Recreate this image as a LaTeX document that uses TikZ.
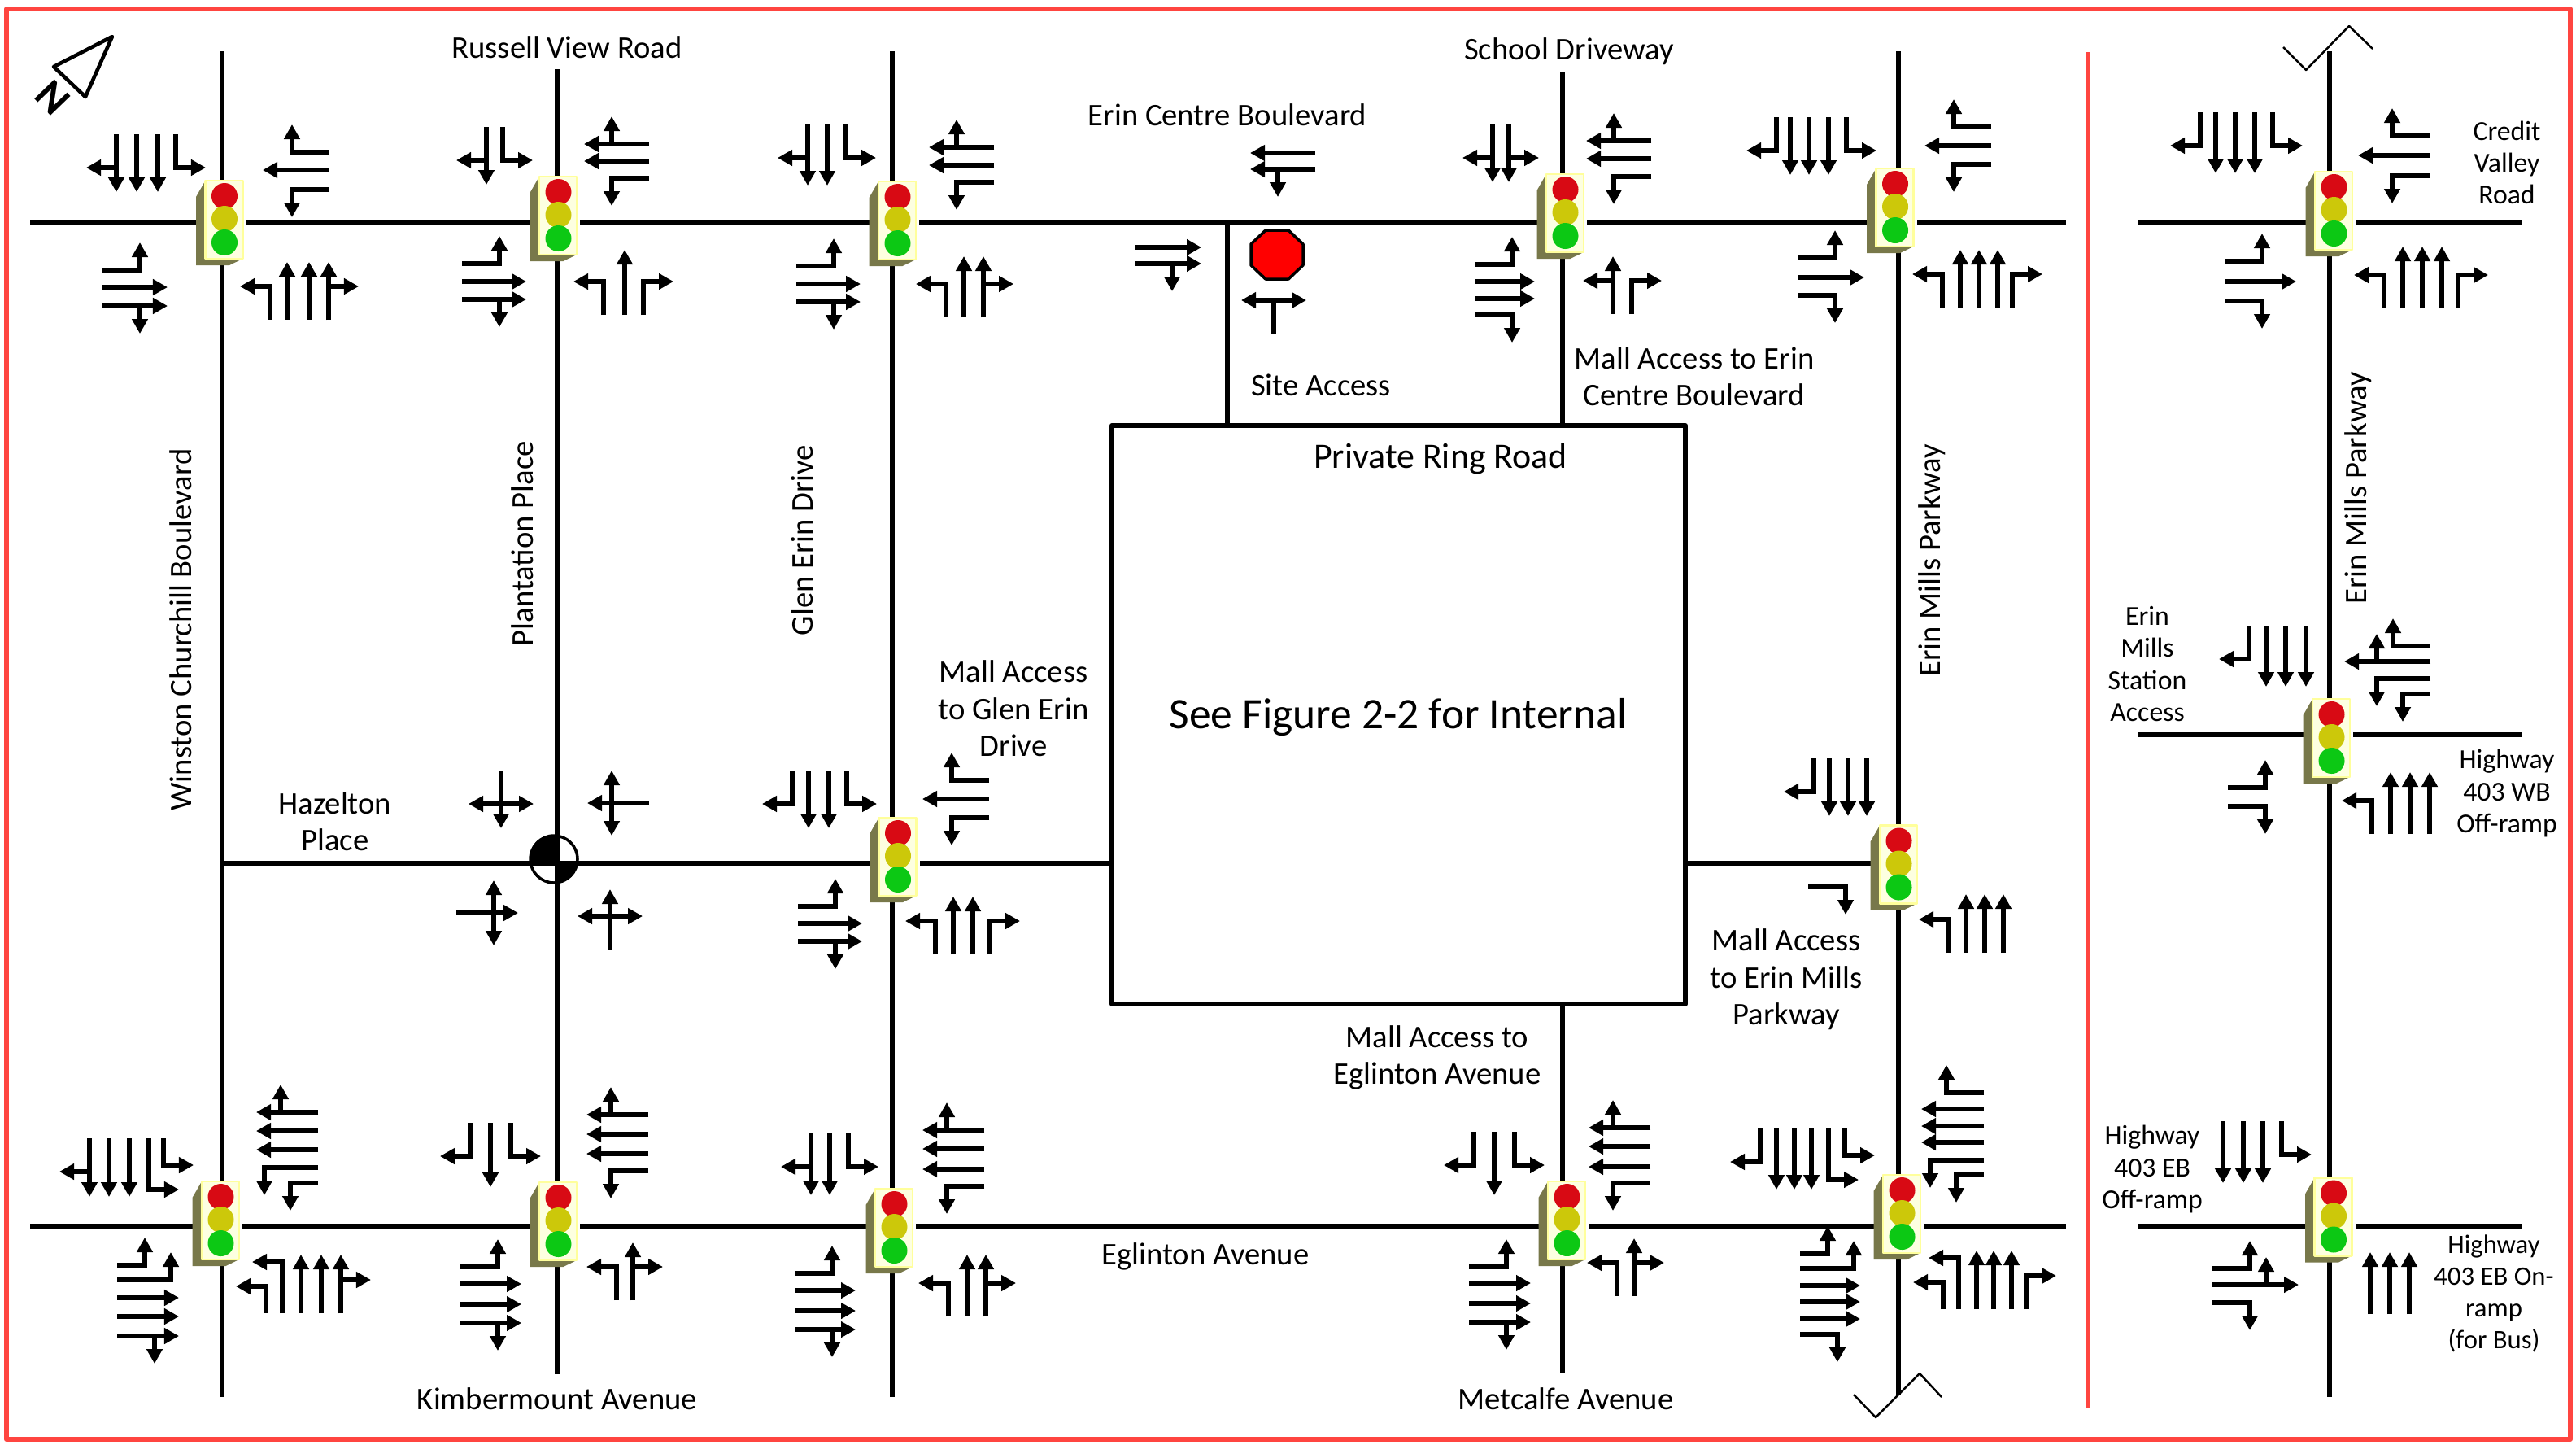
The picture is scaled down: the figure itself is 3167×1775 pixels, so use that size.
\documentclass[tikz,border=0pt]{standalone}
\usepackage{fontspec}
\setmainfont{Carlito}
\usetikzlibrary{arrows.meta}

% colours of the frame and the signal heads
\definecolor{framered}{HTML}{FF4540}
\definecolor{sideolive}{HTML}{78784A}
\definecolor{faceedge}{HTML}{FFFF9C}
\definecolor{faceinner}{HTML}{FDFFE0}
\definecolor{ballred}{HTML}{D80A14}
\definecolor{ballyellow}{HTML}{CCC80A}
\definecolor{ballgreen}{HTML}{0CC814}

\tikzset{
  road/.style={line width=1.75pt},
  lane/.style={line width=1.7pt, line join=miter, -{Triangle[length=0.18cm,width=0.19cm]}},
  lbl/.style={font=\fontsize{11}{12.9}\selectfont, align=center, inner sep=0pt},
  lblnarrow/.style={font=\fontsize{9.6}{11.1}\selectfont, align=center, inner sep=0pt},
}

% one lane of an approach, drawn going "up"; \off is the offset to the driver's right
\newcommand{\laneT}{\draw[lane] (\off,0) -- (\off,-\tlen);}
\newcommand{\laneL}{\draw[lane] (\off,0) -- (\off,-\stem) -- (\off-\hlen,-\stem);}
\newcommand{\laneR}{\draw[lane] (\off,0) -- (\off,-\stem) -- (\off+\hlen,-\stem);}
\newcommand{\laneTL}{\laneT\laneL}
\newcommand{\laneTR}{\laneT\laneR}
\newcommand{\laneLR}{\def\hlen{40}\laneL\laneR}
\newcommand{\laneTLR}{\def\hlen{40}\laneT\laneL\laneR}
\newcommand{\laneSL}{\let\stem\stemS\laneL}
\newcommand{\laneLL}{\let\stem\stemG\laneL}
\newcommand{\laneTLL}{\laneT\laneLL}
\newcommand{\laneTRR}{\laneT\let\stem\stemG\laneR}

% an approach: tail point of the first lane, rotation, list of kind/offset
\newcommand{\lanes}[4]{%
  \begin{scope}[shift={(#1,#2)},rotate=#3]
    \foreach \kd/\off in {#4}{\csname lane\kd\endcsname}
  \end{scope}}
\newcommand{\setns}[1]{\def\tlen{#1}\def\stem{41}\def\stemS{33}\def\stemG{63}\def\hlen{37}}
\newcommand{\setew}[1]{\def\tlen{#1}\def\stem{46}\def\stemS{34}\def\stemG{66}\def\hlen{34}}
\newcommand{\goN}[4][71]{\setns{#1}\lanes{#2}{#3}{0}{#4}}
\newcommand{\goS}[4][71]{\setns{#1}\lanes{#2}{#3}{180}{#4}}
\newcommand{\goW}[4][82]{\setew{#1}\lanes{#2}{#3}{90}{#4}}
\newcommand{\goE}[4][82]{\setew{#1}\lanes{#2}{#3}{-90}{#4}}

% signal head, at the centre of its face
\newcommand{\signal}[2]{%
  \begin{scope}[shift={(#1,#2)}]
    \fill[white] (23,-48) rectangle (27,56);
    \fill[sideolive] (-23,-48) -- (-34.5,-28) -- (-34.5,56) -- (6.5,56) -- (23,48) -- cycle;
    \draw[faceedge, fill=faceinner, line width=0.6pt] (-23,-48) rectangle (23,48);
    \fill[ballred] (0.5,-29) circle (16);
    \fill[ballyellow] (0.5,-1) circle (16);
    \fill[ballgreen] (0.5,28) circle (16);
  \end{scope}}

\begin{document}
\begin{tikzpicture}[x=0.01cm, y=-0.01cm, line join=round]
    \useasboundingbox (0,0) rectangle (3167,1775);

    % frame and divider
    \draw[framered, line width=1.7pt] (8,11) rectangle (3160,1769);
    \draw[framered, line width=1pt] (2567,64) -- (2567,1731);

    % ring road block
    \coordinate (BoxNW) at (1367,523);
    \coordinate (BoxSE) at (2072,1234);
    \draw[road] (BoxNW) rectangle (BoxSE);

    % east-west roads
    \draw[road] (37,274) -- (2540,274);
    \draw[road] (37,1507) -- (2540,1507);
    \draw[road] (273,1061) -- (1367,1061);
    \draw[road] (2072,1061) -- (2334,1061);
    \foreach \yr in {274,903,1507}{\draw[road] (2628,\yr) -- (3100,\yr);}

    % north-south roads
    \foreach \xr/\ya/\yb in {273/63/1717, 685/85/1689, 1097/63/1717, 2334/63/1715, 2864/63/1717, 1921/89/523, 1921/1234/1688, 1509/274/523}{
      \draw[road] (\xr,\ya) -- (\xr,\yb);
    }

    % break marks
    \draw[line width=0.7pt] (2807,58) -- (2835,86) -- (2888,32) -- (2917,60);
    \draw[line width=0.7pt] (2279,1714) -- (2306,1742) -- (2360,1688) -- (2387,1717);

    % north arrow
    \draw[line width=1.3pt, line join=round] (138,45) -- (66,82) -- (105,119) -- cycle;
    \node[font=\fontsize{15}{15}\selectfont\bfseries, rotate=-46, inner sep=0pt] (NorthN) at (64.5,120.5) {N};

    % signals
    \signal{275.5}{270}
    \signal{686}{265}
    \signal{1103}{271}
    \signal{1924}{262}
    \signal{2329.5}{255}
    \signal{2869}{259}
    \signal{1103.5}{1053}
    \signal{2334}{1062.5}
    \signal{2866}{907}
    \signal{271}{1500}
    \signal{686}{1501}
    \signal{1099}{1509}
    \signal{1926}{1500}
    \signal{2338}{1492}
    \signal{2868.5}{1495.5}

    % stop control at Hazelton Place
    \begin{scope}
      \clip (681,1056) circle (29);
      \fill (640,1020) rectangle (683,1061);
      \fill (683,1061) rectangle (720,1090);
    \end{scope}
    \draw[line width=1pt] (681,1056) circle (29);

    % stop sign at the site access
    \draw[line width=1pt, fill=red] (1556,283) -- (1584,283) -- (1602,300) -- (1602,326) -- (1584,343) -- (1556,343) -- (1538,326) -- (1538,300) -- cycle;

    % Winston Churchill Boulevard, north side of the ring
    \goS{216}{165}{L/0,T/22,T/48,TR/73}
    \goW{405}{233}{L/0,T/24,R/46}
    \goE[80]{126}{332}{L/0,T/21,TR/44}
    \goN{332}{393}{L/0,T/21,T/48,TR/72}

    % Plantation Place at Russell View Road
    \goS{618}{156}{L/0,TR/20}
    \goW[80]{798}{219}{L/0,T/21,TR/42}
    \goE[79]{568}{324}{L/0,T/22,TR/44}
    \goN[80]{742}{387}{L/0,T/26,R/49}

    % Glen Erin Drive
    \goS[75]{1040}{153}{L/0,T/23,TR/47}
    \goW[80]{1222}{224}{L/0,T/21,TR/43}
    \goE[79]{979}{327}{L/0,T/22,TR/44}
    \goN[75]{1163}{390}{L/0,T/22,TR/46}

    % site access
    \goW[80]{1617}{208}{TL/0,T/20}
    \goE{1395}{304}{T/0,TR/20}
    \goN{1566}{410}{LR/0}

    % School Driveway
    \goS{1855}{153}{TL/0,TR/20}
    \goW[80]{2030}{217}{L/0,T/22,TR/44}
    \goE[74]{1813}{325}{L/0,T/21,T/42,R/62}
    \goN{1983}{386}{TL/0,R/23}

    % Erin Mills Parkway at Erin Centre Boulevard
    \goS{2270}{144}{L/0,T/22,T/46,T/69,R/86}
    \goW{2448}{202}{L/0,T/23,R/46}
    \goE{2210}{317}{L/0,T/24,R/46}
    \goN{2388}{378}{L/0,T/22,T/45,T/68,R/86}

    % Erin Mills Parkway at Credit Valley Road
    \goS[75]{2794}{138}{L/0,T/22,T/46,T/70,R/89}
    \goW[88]{2987}{216}{L/0,T/25,R/49}
    \goE[88]{2735}{321}{L/0,T/25,R/49}
    \goN[76]{2931}{379}{L/0,T/23,T/47,T/71,R/91}

    % Hazelton Place
    \goS{616}{947}{TLR/0}
    \goW[76]{798}{987}{TLR/0}
    \goE[76]{561}{1122}{TLR/0}
    \goN[74]{750}{1167}{TLR/0}

    % Glen Erin Drive at the mall access
    \goS{1041}{947}{L/0,T/22,T/47,R/67}
    \goW{1216}{1005}{L/0,T/23,R/46}
    \goE[79]{981}{1114}{L/0,T/21,TR/43}
    \goN{1150}{1173}{L/0,T/22,T/46,R/67}

    % Erin Mills Parkway at the mall access
    \goS{2295}{932}{T/0,T/23,T/46,R/65}
    \goE{2223}{1090}{R/0}
    \goN[72]{2396}{1171}{L/0,T/21,T/44,T/67}

    % Erin Mills Parkway at the highway 403 WB ramps
    \goS[75]{2835}{769}{T/0,T/25,T/49,R/70}
    \goW[106]{2988}{853}{SL/0,LL/19,TRR/40,R/59}
    \goE{2739}{968}{L/0,R/23}
    \goN[76]{2916}{1025}{L/0,T/23,T/47,T/71}

    % Eglinton Avenue, west end
    \goS[72]{201}{1399}{SL/0,LL/18,T/42,T/67,TR/91}
    \goW[76]{391}{1454}{SL/0,LL/19,T/41,T/64,TR/87}
    \goE[76]{144}{1555}{SL/0,LL/18,T/40,T/63,TR/87}
    \goN[72]{327}{1614}{SL/0,LL/20,T/43,T/68,TR/92}

    % Kimbermount Avenue
    \goS[79]{628}{1380}{L/0,T/25,R/50}
    \goW[76]{797}{1439}{L/0,T/21,T/45,TR/69}
    \goE[75]{566}{1557}{L/0,T/21,T/46,TR/69}
    \goN{758}{1598}{L/0,TR/20}

    % Glen Erin Drive at Eglinton Avenue
    \goS[76]{1043}{1393}{L/0,T/23,TR/46}
    \goW[76]{1210}{1458}{L/0,T/21,T/46,TR/69}
    \goE[75]{977}{1565}{L/0,T/21,T/46,TR/69}
    \goN[76]{1166}{1618}{L/0,T/23,TR/46}

    % Metcalfe Avenue
    \goS[78]{1862}{1391}{L/0,T/25,R/50}
    \goW[76]{2029}{1454}{L/0,T/20,T/45,TR/68}
    \goE[76]{1806}{1557}{L/0,T/20,T/45,TR/68}
    \goN{1988}{1593}{L/0,TR/21}

    % Erin Mills Parkway at Eglinton Avenue
    \goS[75]{2268}{1387}{SL/0,LL/20,T/41,T/62,T/84,R/104}
    \goW[77]{2439}{1444}{SL/0,LL/18,T/40,T/60,T/81,R/101}
    \goE[74]{2213}{1541}{SL/0,LL/18,T/39,T/59,T/80,R/99}
    \goN[72]{2389}{1609}{SL/0,LL/19,T/41,T/62,T/84,R/102}

    % Erin Mills Parkway at the highway 403 EB ramps
    \goS[76]{2805}{1378}{L/0,T/23,T/47,T/72}
    \goE[106]{2720}{1559}{L/0,TLL/20,R/42}
    \goN[76]{2914}{1615}{T/0,T/24,T/48}

    % street names
    \node[lbl] (RussellName) at (697,58) {Russell View Road};
    \node[lbl] (SchoolName) at (1929,63) {School Driveway};
    \node[lbl] (ErinCentreName) at (1509,141) {Erin Centre Boulevard};
    \node[lbl] (SiteName) at (1624,473) {Site Access};
    \node[lbl] (MallErinCentre) at (2083,463) {Mall Access to Erin\\Centre Boulevard};
    \node[lbl, font=\fontsize{12.5}{14}\selectfont] (RingName) at (1771,564) {Private Ring Road};
    \node[lbl, font=\fontsize{15.2}{17}\selectfont] (BoxNote) at (1719,882) {See Figure 2-2 for Internal};
    \node[lbl, rotate=90] (WinstonName) at (222,774) {Winston Churchill Boulevard};
    \node[lbl, rotate=90] (PlantationName) at (642,668) {Plantation Place};
    \node[lbl, rotate=90] (GlenName) at (986,664) {Glen Erin Drive};
    \node[lbl, rotate=90] (ErinMillsName) at (2375,689) {Erin Mills Parkway};
    \node[lbl, rotate=90] (ErinMillsNameB) at (2899,600) {Erin Mills Parkway};
    \node[lbl] (MallGlen) at (1246,871) {Mall Access\\to Glen Erin\\Drive};
    \node[lbl] (HazeltonName) at (412,1010) {Hazelton\\Place};
    \node[lbl] (MallErinMills) at (2196,1204) {Mall Access\\to Erin Mills\\Parkway};
    \node[lbl] (MallEglinton) at (1767,1300) {Mall Access to\\Eglinton Avenue};
    \node[lbl] (EglintonName) at (1482,1544) {Eglinton Avenue};
    \node[lbl] (KimberName) at (685,1719) {Kimbermount Avenue};
    \node[lbl] (MetcalfeName) at (1925,1719) {Metcalfe Avenue};
    \node[lblnarrow] (CreditName) at (3082,200) {Credit\\Valley\\Road};
    \node[lblnarrow] (StationName) at (2640,816) {Erin\\Mills\\Station\\Access};
    \node[lblnarrow] (WBOffName) at (3082,975) {Highway\\403 WB\\Off-ramp};
    \node[lblnarrow] (EBOffName) at (2646,1437) {Highway\\403 EB\\Off-ramp};
    \node[lblnarrow, font=\fontsize{9.3}{11.1}\selectfont] (EBOnName) at (3066,1590) {Highway\\403 EB On-\\ramp\\(for Bus)};
\end{tikzpicture}
\end{document}
